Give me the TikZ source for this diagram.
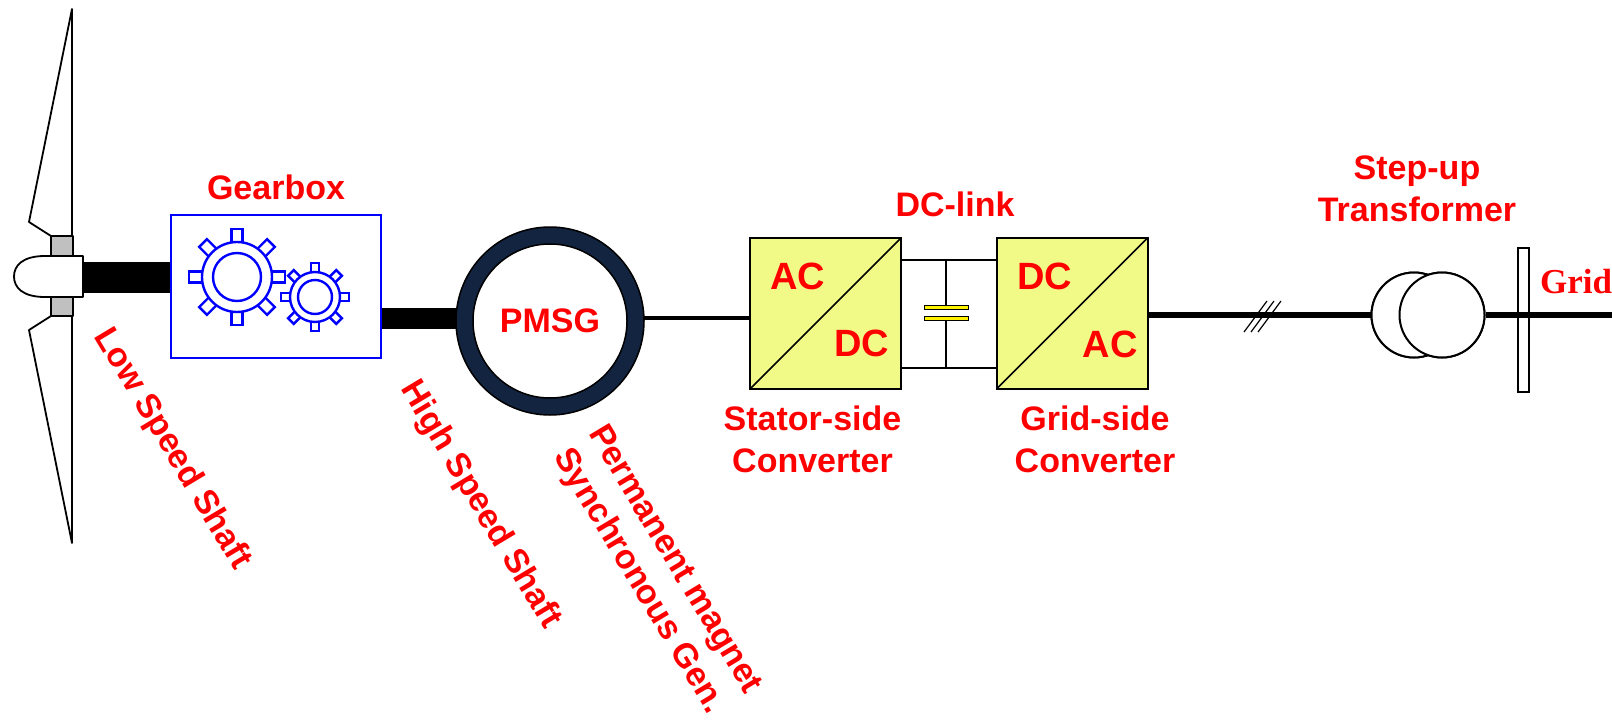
\documentclass[tikz,border=0pt]{standalone}
\usepackage{fontspec}
\setmainfont{Liberation Sans}
\newfontfamily\gridserif{Liberation Serif}
\usepackage{tikz}
\usetikzlibrary{calc,positioning}
\definecolor{convyellow}{RGB}{242,250,135}
\definecolor{statorring}{RGB}{18,36,63}
\definecolor{hubgrey}{RGB}{192,192,192}

\begin{document}
\begin{tikzpicture}[x=1pt,y=-1pt,
  lbl/.style={text=red,font=\bfseries\fontsize{34}{42}\selectfont,align=center,inner sep=0pt},
  acdc/.style={text=red,font=\bfseries\fontsize{38}{44}\selectfont,inner sep=0pt},
  conv/.style={draw,line width=2pt,fill=convyellow,minimum size=151pt,inner sep=0pt,outer sep=0pt},
  gearline/.style={draw=blue,line width=2.4pt},
  bladeline/.style={line width=1.8pt,line join=round},
  trafo/.style={circle,draw,line width=2pt,fill=white,minimum size=85pt,inner sep=0pt},
  wire/.style={line width=2pt},
  busline/.style={line width=6pt}]

\useasboundingbox (0,0) rectangle (1612,720);

\coordinate (hub) at (83,277.5);
\node[draw=blue,line width=2pt,minimum width=210pt,minimum height=143pt,inner sep=0pt] (gbox) at (276,286.5) {};
\node[lbl,above=14pt of gbox] (gboxlbl) {Gearbox};

\node[circle,draw=statorring,line width=17pt,minimum size=171pt,inner sep=0pt,lbl] (pmsg) at (550,321) {PMSG};
\draw[line width=1.5pt] (pmsg.center) circle[radius=94pt] (pmsg.center) circle[radius=77pt];

\node[conv] (ssc) at (825.5,313.5) {};
\node[conv] (gsc) at (1072,313.5) {};
\coordinate (cap) at (946,313);
\node[trafo] (tr1) at (1414,315) {};
\node[trafo] (tr2) at (1442,315) {};
\node[draw,line width=1.5pt,minimum width=11pt,minimum height=144pt,inner sep=0pt] (bus) at (1523.5,320) {};
\coordinate (gridend) at (1612,315);
\coordinate (hatch) at (1262.5,316);

% shafts
\draw[line width=31pt] (hub) -- (gbox.west |- hub);
\draw[line width=21pt] ($(pmsg.west -| gbox.east)+(0,-3)$) -- ($(pmsg.west)+(0,-3)$);

% rotor
\filldraw[fill=white,bladeline] (72,9) -- (29,222) -- (51,236) -- (72,236) -- cycle;
\filldraw[fill=white,bladeline] (72,543) -- (29,330) -- (51,316) -- (72,316) -- cycle;
\filldraw[fill=hubgrey,bladeline] (51,236) rectangle (73,256);
\filldraw[fill=hubgrey,bladeline] (51,297) rectangle (73,316);
\filldraw[fill=white,bladeline] (83,256) -- (45,256) .. controls (22,256) and (14,266) .. (14,276.5)
  .. controls (14,287) and (22,297) .. (45,297) -- (83,297) -- cycle;

% gears
\coordinate (gbig) at (237,277);
\coordinate (gsmall) at (315,297);
\draw[gearline] (gbig) circle[radius=35pt] (gbig) circle[radius=24pt];
\draw[gearline] (gsmall) circle[radius=25pt] (gsmall) circle[radius=17pt];
\foreach \a in {0,45,...,315}{
  \draw[gearline,shift={(gbig)},rotate=\a] (34.5,-5.5) -- (48,-5.5) -- (48,5.5) -- (34.5,5.5);
  \draw[gearline,shift={(gsmall)},rotate=\a] (24.5,-4) -- (34,-4) -- (34,4) -- (24.5,4);
}

% converters and dc-link
\draw[line width=4.5pt] ($(pmsg.east)+(0,-3)$) -- ($(ssc.west |- pmsg.east)+(0,-3)$);
\draw[line width=1.5pt] (ssc.south west) -- (ssc.north east);
\draw[line width=1.5pt] (gsc.south west) -- (gsc.north east);
\node[acdc] at ($(ssc)+(-28,-37)$) {AC};
\node[acdc] at ($(ssc)+(36,30)$) {DC};
\node[acdc] at ($(gsc)+(-27.5,-37)$) {DC};
\node[acdc] at ($(gsc)+(38,30.5)$) {AC};
\coordinate (dctop) at ($(ssc.east)+(0,-54)$);
\coordinate (dcbot) at ($(ssc.east)+(0,54)$);
\draw[wire] (dctop) -- (dctop -| gsc.west);
\draw[wire] (dcbot) -- (dcbot -| gsc.west);
\draw[wire] (cap |- dctop) -- ($(cap)+(0,-8)$);
\draw[wire] ($(cap)+(0,7.5)$) -- (cap |- dcbot);
\filldraw[fill=yellow,line width=1pt] ($(cap)+(-22,-8)$) rectangle ($(cap)+(22,-3.5)$);
\filldraw[fill=yellow,line width=1pt] ($(cap)+(-22,3)$) rectangle ($(cap)+(22,7.5)$);

% grid connection
\draw[busline] (gsc.east |- tr1.west) -- (tr1.west);
\foreach \d in {-7,0,7}
  \draw[line width=1.2pt] ($(hatch)+(\d-11.5,16)$) -- ($(hatch)+(\d+11.5,-15)$);
\node[trafo] at (tr1) {};
\node[trafo] at (tr2) {};
\draw[busline] (tr2.east) -- (gridend);

% labels
\node[lbl] (dclbl) at (955,204) {DC-link};
\node[lbl,below=17pt of ssc,xshift=-13pt] (ssclbl) {Stator-side\\Converter};
\node[lbl,below=17pt of gsc,xshift=23pt] (gsclbl) {Grid-side\\Converter};
\node[lbl] (trlbl) at (1417,189) {Step-up\\Transformer};
\node[text=red,font=\gridserif\bfseries\fontsize{35}{40}\selectfont,anchor=base west,inner sep=0pt] (gridlbl) at (1540,293) {Grid};
\node[lbl,rotate=-59] (lsslbl) at (172,449) {Low Speed Shaft};
\node[lbl,rotate=-59] (hsslbl) at (480,505) {High Speed Shaft};
\node[lbl,rotate=-59] (pmsglbl) at (656,571) {Permanent magnet\\Synchronous Gen.};
\end{tikzpicture}
\end{document}
